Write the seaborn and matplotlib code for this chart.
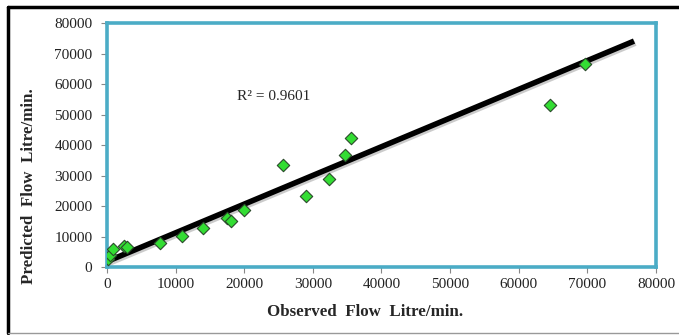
import numpy as np
import pandas as pd
import seaborn as sns
import matplotlib.pyplot as plt
import matplotlib.patheffects as pe
from matplotlib.lines import Line2D

# observed vs predicted flow (Litre/min.)
observed = [200, 500, 900, 2500, 2900, 7700, 11000, 14000, 17500, 18000,
            20000, 25600, 29000, 32400, 34700, 35600, 64500, 69700]
predicted = [2500, 3800, 5800, 7000, 6400, 8000, 10300, 12700, 16000, 15000,
             18700, 33500, 23200, 29000, 36600, 42300, 53000, 66500]
# trendline as drawn in the reference (Excel linear trendline)
trend_x = [0, 76800]
trend_y = [1800, 74100]
r2_label = "R\u00b2 = 0.9601"

df = pd.DataFrame({'Observed': observed, 'Predicted': predicted})

sns.set_style('white')
plt.rcParams['font.family'] = ['Liberation Serif', 'DejaVu Serif']

fig = plt.figure(figsize=(6.79, 3.35), dpi=100)
ax = fig.add_axes([0.1576, 0.203, 0.8085, 0.728])

ax.plot(trend_x, trend_y, color='black', lw=4, solid_capstyle='butt', zorder=2,
        path_effects=[pe.SimpleLineShadow(offset=(1, -1.5), alpha=0.3, shadow_color='#555'),
                      pe.Normal()])
sns.scatterplot(data=df, x='Observed', y='Predicted', ax=ax, marker='D', s=40,
                color='#33dd33', edgecolor='#2a4a2a', linewidth=0.8, zorder=3)

ax.set_xlim(0, 80000)
ax.set_ylim(0, 80000)
ax.set_xticks(range(0, 80001, 10000))
ax.set_yticks(range(0, 80001, 10000))
ax.tick_params(axis='both', which='both', direction='out', length=4, width=0.8,
               color='#888888', labelsize=11, bottom=True, left=True,
               labelcolor='#222222')
ax.tick_params(axis='y', pad=6.5)
ax.tick_params(axis='x', pad=4)
for sp in ax.spines.values():
    sp.set_color('#4bacc6')
    sp.set_linewidth(2.6)

ax.text(18900, 56000, r2_label, fontsize=11, va='center', ha='left')
ax.set_xlabel('Observed  Flow  Litre/min.', fontsize=12.2, fontweight='bold')
ax.set_ylabel('Predicted  Flow  Litre/min.', fontsize=12.2, fontweight='bold')
ax.xaxis.set_label_coords(0.47, -0.152)
ax.yaxis.set_label_coords(-0.1275, 0.332)

# outer chart frame
fig.add_artist(Line2D([0.0118, 1.0], [0.979, 0.979], color='black', lw=2.5,
                      transform=fig.transFigure))
fig.add_artist(Line2D([0.0118, 0.0118], [0.005, 0.979], color='black', lw=2.5,
                      transform=fig.transFigure))
fig.add_artist(Line2D([0.0118, 1.0], [0.006, 0.006], color='#999999', lw=1,
                      transform=fig.transFigure))

fig.savefig('out.png', dpi=100)
